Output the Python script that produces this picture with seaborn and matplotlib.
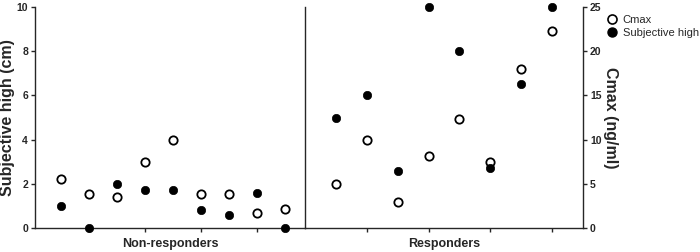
import matplotlib
matplotlib.use("Agg")
import matplotlib.pyplot as plt
from matplotlib.lines import Line2D
import seaborn as sns
import pandas as pd

# ---- data ----
nonresp_subjective = [1.0, 0.0, 2.0, 1.7, 1.7, 0.8, 0.6, 1.6, 0.0]     # cm
nonresp_cmax = [5.5, 3.8, 3.5, 7.5, 9.9, 3.8, 3.8, 1.7, 2.1]             # ng/ml
resp_subjective = [5.0, 6.0, 2.6, 10.0, 8.0, 2.7, 6.5, 10.0]             # cm
resp_cmax = [5.0, 9.9, 2.9, 8.1, 12.3, 7.5, 18.0, 22.3]                  # ng/ml
group_labels = ["Non-responders", "Responders"]
left_ticks = [0, 2, 4, 6, 8, 10]
right_ticks = [0, 5, 10, 15, 20, 25]

sns.set_style("ticks")
plt.rcParams['font.family'] = ['Liberation Sans Narrow', 'Liberation Sans', 'DejaVu Sans']

nr = pd.DataFrame({"subject": range(1, len(nonresp_cmax) + 1),
                   "subj": nonresp_subjective, "cmax": nonresp_cmax})
rs = pd.DataFrame({"subject": range(0, len(resp_cmax)),
                   "subj": resp_subjective, "cmax": resp_cmax})

fig = plt.figure(figsize=(7.0, 2.52), dpi=100)
L, R, B, T = 35 / 700, 583 / 700, 1 - 228 / 252, 1 - 7 / 252
MID = 305 / 700
ax1 = fig.add_axes([L, B, MID - L, T - B])
ax2 = fig.add_axes([MID, B, R - MID, T - B])
ax1c = ax1.twinx()
ax2c = ax2.twinx()

msize = 36
open_kw = dict(marker="o", s=msize, facecolor="white", edgecolor="black", linewidth=1.3, zorder=3, clip_on=False)
fill_kw = dict(marker="o", s=msize, color="black", edgecolor="black", linewidth=0.5, zorder=4, clip_on=False)

sns.scatterplot(data=nr, x="subject", y="cmax", ax=ax1c, legend=False, **open_kw)
sns.scatterplot(data=nr, x="subject", y="subj", ax=ax1, legend=False, **fill_kw)
sns.scatterplot(data=rs, x="subject", y="cmax", ax=ax2c, legend=False, **open_kw)
sns.scatterplot(data=rs, x="subject", y="subj", ax=ax2, legend=False, **fill_kw)

ax1.set_zorder(ax1c.get_zorder() + 1); ax1.patch.set_visible(False)
ax2.set_zorder(ax2c.get_zorder() + 1); ax2.patch.set_visible(False)

for a in (ax1, ax2):
    a.set_ylim(0, 10)
for a in (ax1c, ax2c):
    a.set_ylim(0, 25)

ax1.set_xlim(0.07, 9.7)
ax1c.set_xlim(0.07, 9.7)
ax2.set_xlim(-1, 8)
ax2c.set_xlim(-1, 8)

tick_font = dict(fontsize=7.5, fontweight="bold")
label_fam = ['Liberation Sans', 'DejaVu Sans']
# left panel
ax1.set_yticks(left_ticks)
ax1.set_yticklabels([str(t) for t in left_ticks], **tick_font)
ax1.set_xticks([2, 4, 6, 8])
ax1.set_xticklabels([])
ax1.set_xlabel(group_labels[0], fontsize=9, fontweight="bold", labelpad=1)
ax1.set_ylabel("Subjective high (cm)", fontsize=11.5, fontweight="bold",
               family=label_fam, labelpad=1)
ax1.spines["top"].set_visible(False)
ax1.spines["right"].set_visible(True)
ax1c.set_yticks([])
ax1c.set_ylabel("")
for s in ("top", "right", "left", "bottom"):
    ax1c.spines[s].set_visible(False)
ax1.tick_params(axis="y", length=3, width=1, pad=2)
ax1.tick_params(axis="x", length=3, width=1)

# right panel
ax2.set_yticks([])
ax2.set_ylabel("")
ax2.set_xticks([1, 3, 5, 7])
ax2.set_xticklabels([])
ax2.set_xlabel(group_labels[1], fontsize=9, fontweight="bold", labelpad=1)
for s in ("top", "left", "right"):
    ax2.spines[s].set_visible(False)
ax2c.set_yticks(right_ticks)
ax2c.set_yticklabels([str(t) for t in right_ticks], **tick_font)
ax2c.set_ylabel("Cmax (ng/ml)", fontsize=11.5, fontweight="bold", rotation=-90,
                family=label_fam, labelpad=12)
for s in ("top", "left", "bottom"):
    ax2c.spines[s].set_visible(False)
ax2.tick_params(axis="x", length=3, width=1)
ax2c.tick_params(axis="y", length=3, width=1, pad=2)

for a in (ax1, ax2, ax1c, ax2c):
    for sp in a.spines.values():
        sp.set_linewidth(1.0)

handles = [
    Line2D([], [], marker="o", linestyle="none", markersize=6.5, markerfacecolor="white",
           markeredgecolor="black", markeredgewidth=1.2, label="Cmax"),
    Line2D([], [], marker="o", linestyle="none", markersize=6.5, markerfacecolor="black",
           markeredgecolor="black", label="Subjective high"),
]
fig.legend(handles=handles, loc="upper left", bbox_to_anchor=(606 / 700, 1 - 15 / 252),
           frameon=False, handletextpad=0.5, labelspacing=0.3,
           borderaxespad=0, borderpad=0, handlelength=1.0,
           prop={'family': ['Liberation Sans', 'DejaVu Sans'], 'size': 8})

fig.savefig("out.png", dpi=100)
